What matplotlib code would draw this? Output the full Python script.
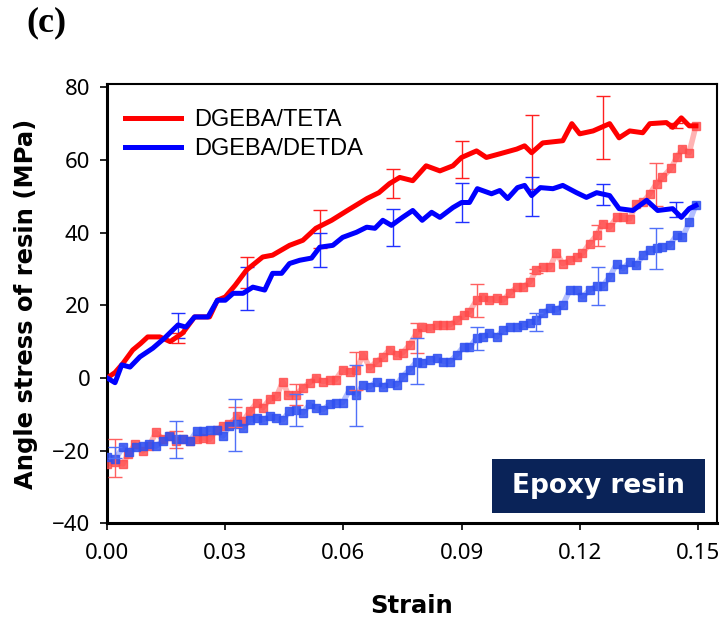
import matplotlib
matplotlib.use("Agg")
import matplotlib.pyplot as plt
from matplotlib.patches import Rectangle

# upper curves (solid)
teta_x = [0, 0.002, 0.004, 0.0065, 0.0085, 0.0103, 0.0134, 0.016, 0.0192, 0.0222, 0.026, 0.028, 0.030,
          0.0325, 0.0354, 0.0395, 0.042, 0.0463, 0.0497, 0.053, 0.057, 0.061, 0.066, 0.069, 0.0717, 0.0743,
          0.0776, 0.081, 0.0845, 0.0878, 0.09, 0.0938, 0.0963, 0.0997, 0.104, 0.106, 0.1078, 0.1106, 0.1157,
          0.118, 0.120, 0.1234, 0.1276, 0.130, 0.1327, 0.136, 0.1378, 0.142, 0.1436, 0.1458, 0.1478, 0.1495]
teta_y = [0, 1.5, 4, 7.7, 9.5, 11.3, 11.3, 10, 12.4, 16.8, 16.8, 21.4, 22.3,
          25.5, 29.7, 33.3, 33.8, 36.5, 37.9, 41.2, 43.4, 46.1, 49.4, 51, 53.5, 55.2,
          54.3, 58.4, 57, 58.4, 60.7, 62.5, 60.7, 61.7, 63, 63.9, 62, 64.7, 65.3,
          70, 67.2, 68, 70, 66.1, 68, 67.5, 70, 70.3, 69, 71.6, 69.4, 69.4]

detda_x = [0, 0.002, 0.0037, 0.0058, 0.0083, 0.0116, 0.0146, 0.018, 0.020, 0.0222, 0.0256, 0.028, 0.030,
           0.032, 0.0345, 0.037, 0.040, 0.042, 0.0443, 0.0463, 0.0489, 0.0519, 0.054, 0.0573, 0.0598, 0.0633,
           0.0659, 0.068, 0.070, 0.0722, 0.075, 0.0776, 0.080, 0.0824, 0.0845, 0.0878, 0.090, 0.092, 0.094,
           0.0976, 0.0997, 0.1017, 0.1042, 0.106, 0.1078, 0.110, 0.1132, 0.1157, 0.1192, 0.1217, 0.1243,
           0.1276, 0.130, 0.1335, 0.137, 0.1398, 0.1436, 0.1458, 0.1478, 0.1495]
detda_y = [0, -1.3, 3.6, 3, 5.8, 8.2, 11, 14.6, 14, 16.8, 16.8, 21.4, 21.4,
           23.3, 23.3, 25, 24.2, 28.8, 28.8, 31.5, 32.4, 33, 36, 36.5, 38.7, 40.1,
           41.5, 41.2, 43.4, 42, 44.2, 46.1, 43.4, 45.6, 44.2, 46.9, 48.3, 48.3, 52.1,
           50.7, 51.6, 49.4, 52.4, 53, 50.2, 52.4, 52.1, 53, 51, 49.7, 51,
           50.2, 46.6, 46.1, 48.9, 46.1, 46.6, 44.2, 46.6, 47.5]

# lower curves (light, square markers)
teta2_x = [0, 0.002, 0.004, 0.0053, 0.007, 0.009, 0.0106, 0.0124, 0.0141, 0.016, 0.0174, 0.0192, 0.021,
           0.0227, 0.0243, 0.026, 0.0278, 0.0294, 0.031, 0.033, 0.0345, 0.0362, 0.038, 0.0395, 0.0413, 0.043,
           0.0446, 0.046, 0.048, 0.0497, 0.0514, 0.053, 0.0548, 0.0565, 0.058, 0.0598, 0.0616, 0.0633, 0.065,
           0.0667, 0.0684, 0.070, 0.0717, 0.0735, 0.075, 0.0768, 0.0786, 0.080, 0.082, 0.0837, 0.0853, 0.087,
           0.0888, 0.0905, 0.092, 0.0938, 0.0955, 0.097, 0.099, 0.1005, 0.1022, 0.104, 0.1056, 0.1073, 0.109,
           0.1106, 0.1124, 0.1141, 0.1157, 0.1175, 0.1192, 0.1207, 0.1225, 0.1243, 0.1258, 0.1276, 0.1294,
           0.131, 0.1327, 0.1344, 0.136, 0.1378, 0.1395, 0.141, 0.1433, 0.1446, 0.1461, 0.1478, 0.1495]
teta2_y = [-23.7, -23, -23.7, -21, -18.3, -20.1, -18.8, -15, -16.9, -16, -17.4, -16.9, -17.4,
           -16.9, -16.4, -16.9, -14.2, -13.3, -12.8, -10.6, -11.9, -9.2, -6.8, -8.2, -5.9, -5.1,
           -1, -4.6, -4.6, -2.7, -1.3, 0, -1, -0.5, -0.5, 2.3, 1.7, 2.3, 6.4,
           2.8, 4.5, 5.8, 7.8, 6.4, 6.9, 9.1, 12.4, 14, 13.7, 14.6, 14.6, 14.6,
           15.9, 17.3, 18.2, 21.4, 22.3, 21.4, 22, 21.4, 23.3, 25, 25, 26.4, 29.7,
           30.5, 30.5, 34.3, 31.5, 32.4, 33.2, 34.3, 37, 39.3, 42.5, 41.5, 44.2,
           44.2, 43.8, 48, 48.3, 50.7, 53.5, 55.2, 57.9, 60.7, 63.1, 62, 69.4]

detda2_x = [0, 0.002, 0.004, 0.0055, 0.0073, 0.009, 0.0106, 0.0124, 0.0141, 0.0157, 0.0174, 0.0192, 0.021,
            0.0227, 0.0243, 0.026, 0.0278, 0.0294, 0.031, 0.033, 0.0345, 0.0362, 0.038, 0.0395, 0.0413, 0.043,
            0.0446, 0.0463, 0.048, 0.0497, 0.0514, 0.053, 0.0548, 0.0565, 0.058, 0.0598, 0.0616, 0.0633, 0.065,
            0.0667, 0.0684, 0.070, 0.0717, 0.0735, 0.075, 0.0768, 0.0786, 0.080, 0.082, 0.0837, 0.0853, 0.087,
            0.0888, 0.0905, 0.092, 0.0938, 0.0955, 0.097, 0.099, 0.1005, 0.1022, 0.104, 0.1056, 0.1073, 0.109,
            0.1106, 0.1124, 0.1141, 0.1157, 0.1175, 0.1192, 0.1207, 0.1225, 0.1243, 0.1258, 0.1276, 0.1294,
            0.131, 0.1327, 0.1344, 0.136, 0.1378, 0.1395, 0.141, 0.1428, 0.1446, 0.1461, 0.1478, 0.1495]
detda2_y = [-21.8, -22.4, -19.1, -20.5, -19.1, -18.8, -18.3, -18.8, -17.4, -16, -16.9, -16.9, -17.4,
            -14.7, -14.7, -14.2, -14.2, -16, -13.3, -12.8, -13.7, -11.5, -10.9, -11.5, -10.6, -10.9,
            -11.5, -9.2, -8.7, -9.6, -7.3, -8.2, -8.7, -7.3, -6.8, -6.8, -3.2, -4.6, -1.8,
            -2.4, -1, -2.4, -1.3, -1.8, 0.4, 2.3, 4.5, 4.2, 5, 5.5, 4.5, 4.5,
            6.4, 8.6, 8.4, 11, 11.3, 12.4, 11.3, 13.2, 14, 14, 14.6, 15.1, 16,
            17.8, 19.2, 18.7, 20.1, 24.2, 24.2, 22.3, 24.2, 25.3, 25.3, 27.8, 31.5,
            30.1, 31.9, 31, 33.8, 35.2, 35.7, 36, 36.5, 39.3, 38.7, 42.8, 47.7]

# error bars
eb_up_x = [0.018, 0.0355, 0.054, 0.0725, 0.09, 0.108, 0.126, 0.1445]
teta_eb_y = [11, 29, 41, 53.5, 60.2, 62.2, 69, 69.5]
teta_eb_e = [1.5, 4.2, 5.3, 4.1, 5.1, 10.2, 8.6, 0.8]
detda_eb_y = [14.5, 24.6, 35.2, 41.4, 48.2, 50, 50.6, 46.3]
detda_eb_e = [3.5, 5.9, 4.7, 5.2, 5.4, 5.3, 2.9, 2]

eb_lo_x = [0.002, 0.0175, 0.0325, 0.048, 0.0633, 0.0786, 0.0938, 0.109, 0.1246, 0.1394]
teta2_eb_y = [-22.1, -17, -10.7, -4.5, 1.9, 11, 21.4, 29.5, 39.2, 53.2]
teta2_eb_e = [5.2, 2.4, 2.8, 2.9, 5.2, 4, 4.6, 0.6, 3, 6]
detda2_eb_y = [-20.5, -16.9, -12.9, -8.8, -4.8, 4.7, 10.9, 15.3, 25.3, 35.6]
detda2_eb_e = [1.5, 5, 7.1, 4.4, 8.4, 6.3, 3.1, 2.5, 5.2, 5.6]

xticks = [0.00, 0.03, 0.06, 0.09, 0.12, 0.15]
yticks = [-40, -20, 0, 20, 40, 60, 80]

fig = plt.figure(figsize=(7.24, 6.2), dpi=100)
ax = fig.add_axes([0.148, 0.156, 0.842, 0.709])

# lower curves
ax.plot(teta2_x, teta2_y, color="#ff9a9a", lw=4, alpha=0.75, zorder=2)
ax.plot(teta2_x, teta2_y, ls="none", marker="s", ms=6.3, color="#ff4a4a", alpha=0.8, zorder=3)
ax.errorbar(eb_lo_x, teta2_eb_y, yerr=teta2_eb_e, fmt="none", ecolor="#ff6060",
            elinewidth=1, capsize=5, capthick=1, zorder=4)
ax.plot(detda2_x, detda2_y, color="#98a8ff", lw=4, alpha=0.75, zorder=2)
ax.plot(detda2_x, detda2_y, ls="none", marker="s", ms=6.3, color="#3050f0", alpha=0.85, zorder=3)
ax.errorbar(eb_lo_x, detda2_eb_y, yerr=detda2_eb_e, fmt="none", ecolor="#5070f8",
            elinewidth=1, capsize=5, capthick=1, zorder=4)

# upper curves
ax.errorbar(eb_up_x, teta_eb_y, yerr=teta_eb_e, fmt="none", ecolor="#ff2020",
            elinewidth=1, capsize=5, capthick=1, zorder=5)
ax.errorbar(eb_up_x, detda_eb_y, yerr=detda_eb_e, fmt="none", ecolor="#2030ff",
            elinewidth=1, capsize=5, capthick=1, zorder=5)
ax.plot(teta_x, teta_y, color="#ff0000", lw=3.6, label="DGEBA/TETA", zorder=6)
ax.plot(detda_x, detda_y, color="#0000ff", lw=3.6, label="DGEBA/DETDA", zorder=7)

ax.set_xlim(0, 0.1548)
ax.set_ylim(-40, 81)
ax.set_xticks(xticks)
ax.set_xticklabels([f"{t:.2f}" for t in xticks])
ax.set_yticks(yticks)
ax.tick_params(direction="out", length=5, width=1.2, pad=7, labelsize=16)
ax.tick_params(axis="x", pad=9)
for lab in ax.get_xticklabels() + ax.get_yticklabels():
    lab.set_family("Noto Sans")
ax.spines["left"].set_linewidth(2.2)
ax.spines["bottom"].set_linewidth(2.2)
ax.spines["top"].set_linewidth(1.5)
ax.spines["right"].set_linewidth(1.5)

ax.set_xlabel("Strain", family="DejaVu Sans", fontweight="bold", fontsize=17.5, labelpad=22)
ax.set_ylabel("Angle stress of resin (MPa)", family="DejaVu Sans", fontweight="bold", fontsize=17.5,
              labelpad=10)

ax.legend(loc="upper left", bbox_to_anchor=(0.029, 0.942), frameon=False, borderpad=0, borderaxespad=0,
          handlelength=2.4, handletextpad=0.55, labelspacing=0.28,
          prop={"family": "Liberation Sans", "size": 17})

ax.add_patch(Rectangle((0.631, 0.0234), 0.35, 0.1226, transform=ax.transAxes,
                       facecolor="#0a2358", edgecolor="none", zorder=8))
ax.text(0.806, 0.0847, "Epoxy resin", transform=ax.transAxes, ha="center", va="center",
        color="white", family="DejaVu Sans", fontweight="bold", fontsize=19, zorder=9)

fig.text(0.064, 0.963, "(c)", family="Liberation Serif", fontweight="bold", fontsize=26,
         ha="center", va="center")

fig.savefig("out.png", dpi=100)
